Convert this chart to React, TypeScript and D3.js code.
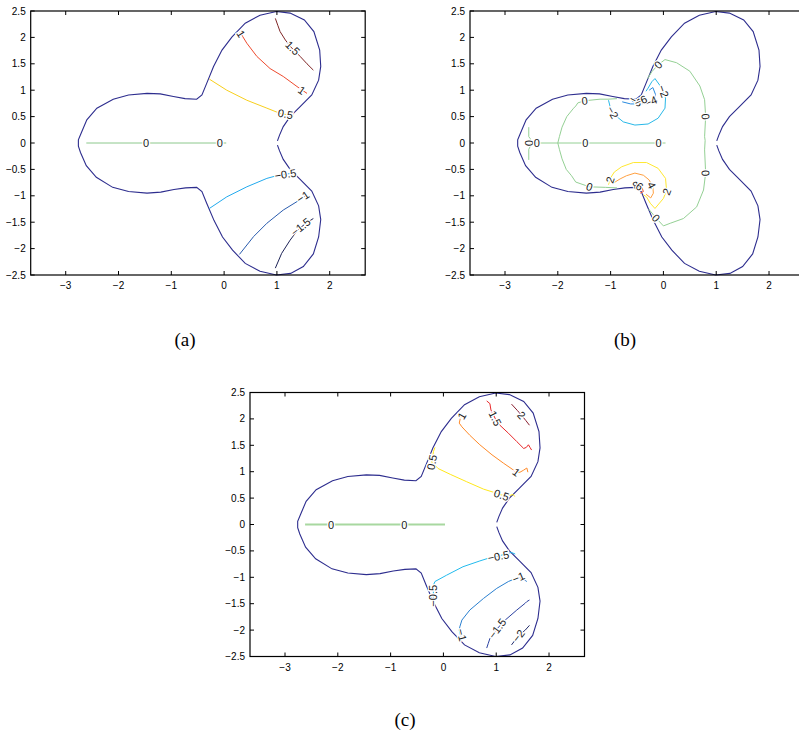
import * as d3 from "d3";

type Pt = [number, number];
type Contour = { level: number; points: Pt[] };
type Label = { level: number; at: Pt };

const X_DOMAIN: [number, number] = [-3.663, 2.672];
const Y_DOMAIN: [number, number] = [-2.5, 2.5];
const xTicks = [-3, -2, -1, 0, 1, 2];
const yTicks = [-2.5, -2, -1.5, -1, -0.5, 0, 0.5, 1, 1.5, 2, 2.5];

// domain outline: notch (upper side) -> round -> notch (lower side)
const boundaryUpper: Pt[] = [
  [1.01, 0.04], [1.05, 0.15], [1.12, 0.31], [1.25, 0.5], [1.44, 0.69], [1.66, 0.91],
  [1.79, 1.19], [1.83, 1.45], [1.81, 1.76], [1.7, 2.11], [1.52, 2.33], [1.25, 2.46],
  [0.99, 2.49], [0.68, 2.42], [0.4, 2.27], [0.15, 2.01], [-0.04, 1.76], [-0.2, 1.45],
  [-0.33, 1.13], [-0.42, 0.91], [-0.52, 0.83], [-0.74, 0.84], [-0.96, 0.88], [-1.21, 0.93],
  [-1.46, 0.94], [-1.81, 0.91], [-2.1, 0.83], [-2.41, 0.66], [-2.6, 0.44], [-2.71, 0.18],
  [-2.76, 0.06],
];
const boundaryLower: Pt[] = [
  [-2.76, -0.06], [-2.72, -0.18], [-2.61, -0.43], [-2.42, -0.65], [-2.11, -0.84], [-1.81, -0.92],
  [-1.46, -0.95], [-1.2, -0.93], [-0.95, -0.88], [-0.73, -0.85], [-0.52, -0.84], [-0.42, -0.92],
  [-0.33, -1.14], [-0.19, -1.47], [-0.03, -1.78], [0.16, -2.03], [0.4, -2.28], [0.68, -2.43],
  [0.99, -2.5], [1.26, -2.47], [1.5, -2.34], [1.69, -2.1], [1.79, -1.78], [1.83, -1.45],
  [1.79, -1.19], [1.66, -0.91], [1.44, -0.69], [1.25, -0.5], [1.12, -0.31], [1.05, -0.15],
  [1.01, -0.04],
];

// ---- panel (a) ----
const a_p15: Pt[] = [[0.97, 2.36], [1.02, 2.22], [1.06, 2.11], [1.16, 1.95], [1.28, 1.8], [1.44, 1.64], [1.57, 1.5], [1.69, 1.38]];
const a_p1: Pt[] = [[0.3, 2.1], [0.35, 2.02], [0.43, 1.89], [0.62, 1.64], [0.87, 1.41], [1.12, 1.26], [1.38, 1.07], [1.48, 1.0], [1.57, 0.94]];
const a_p05: Pt[] = [[-0.28, 1.21], [0.05, 1.0], [0.43, 0.81], [0.81, 0.66], [1.06, 0.56], [1.17, 0.54], [1.31, 0.51]];
const a_0: Pt[] = [[-2.61, 0], [0.04, 0]];
const a_m05: Pt[] = [[-0.28, -1.24], [0.05, -1.02], [0.43, -0.83], [0.81, -0.67], [1.03, -0.61], [1.16, -0.59], [1.24, -0.58]];
const a_m1: Pt[] = [[0.29, -2.11], [0.56, -1.77], [0.81, -1.52], [1.12, -1.27], [1.38, -1.11], [1.53, -1.01]];
const a_m15: Pt[] = [[0.97, -2.37], [1.09, -2.09], [1.25, -1.84], [1.4, -1.64], [1.55, -1.52], [1.69, -1.43]];

const contoursA: Contour[] = [
  { level: 1.5, points: a_p15 }, { level: 1, points: a_p1 }, { level: 0.5, points: a_p05 },
  { level: 0, points: a_0 }, { level: -0.5, points: a_m05 }, { level: -1, points: a_m1 },
  { level: -1.5, points: a_m15 },
];
const labelsA: Label[] = [
  { level: 1.5, at: [1.3, 1.8] }, { level: 1, at: [0.32, 2.07] }, { level: 1, at: [1.47, 1.0] },
  { level: 0.5, at: [1.16, 0.55] }, { level: 0, at: [-1.48, 0] }, { level: 0, at: [-0.08, 0] },
  { level: -0.5, at: [1.16, -0.59] }, { level: -1, at: [1.49, -1.02] }, { level: -1.5, at: [1.45, -1.59] },
];

// ---- panel (b) ----
const b_0left: Pt[] = [[-2.55, 0.3], [-2.55, 0.12], [-2.52, 0.08], [-2.52, -0.06], [-2.55, -0.12], [-2.55, -0.32]];
const b_0axis: Pt[] = [[-2.52, 0], [0.04, 0]];
const b_0loop: Pt[] = [
  [-0.88, 0.84], [-1.05, 0.83], [-1.2, 0.83], [-1.49, 0.8], [-1.62, 0.76], [-1.66, 0.7], [-1.7, 0.66],
  [-1.83, 0.5], [-1.92, 0.3], [-1.97, 0.12], [-2.0, 0], [-1.97, -0.12], [-1.92, -0.3], [-1.84, -0.5],
  [-1.74, -0.62], [-1.66, -0.74], [-1.4, -0.83], [-1.1, -0.84], [-0.88, -0.85],
];
const b_0right: Pt[] = [
  [-0.3, 1.22], [-0.22, 1.35], [-0.1, 1.48], [0.03, 1.58], [0.25, 1.52], [0.5, 1.36], [0.69, 1.08],
  [0.78, 0.82], [0.8, 0.5], [0.78, 0.12], [0.79, 0.05], [0.78, -0.13], [0.8, -0.57], [0.76, -0.89],
  [0.63, -1.21], [0.38, -1.43], [0.13, -1.52], [0.0, -1.57], [-0.14, -1.42], [-0.28, -1.25],
];
const b_m2: Pt[] = [
  [-1.04, 0.81], [-1.01, 0.69], [-0.92, 0.53], [-0.76, 0.4], [-0.54, 0.34], [-0.29, 0.36], [-0.1, 0.47],
  [0.03, 0.66], [0.04, 0.85], [-0.03, 1.04], [-0.16, 1.22], [-0.22, 1.16], [-0.29, 1.04], [-0.33, 0.98],
];
const b_m4: Pt[] = [[-0.78, 0.78], [-0.62, 0.74], [-0.44, 0.74], [-0.3, 0.76], [-0.18, 0.81], [-0.15, 0.92], [-0.2, 1.05], [-0.27, 1.0]];
const b_m6: Pt[] = [[-0.6, 0.8], [-0.5, 0.75], [-0.41, 0.79], [-0.38, 0.9]];
const b_p2: Pt[] = [
  [-1.04, -0.79], [-1.0, -0.66], [-0.93, -0.55], [-0.79, -0.45], [-0.57, -0.37], [-0.32, -0.37], [-0.1, -0.48],
  [0.04, -0.67], [0.06, -0.9], [0.0, -1.05], [-0.16, -1.24], [-0.25, -1.14], [-0.32, -1.02], [-0.38, -0.98],
];
const b_p4: Pt[] = [[-0.95, -0.76], [-0.82, -0.68], [-0.7, -0.62], [-0.54, -0.57], [-0.38, -0.61], [-0.27, -0.7], [-0.2, -0.84], [-0.19, -0.95], [-0.24, -1.04], [-0.33, -0.97]];
const b_p6: Pt[] = [[-0.58, -0.78], [-0.5, -0.74], [-0.42, -0.8], [-0.38, -0.92], [-0.44, -0.95]];

const contoursB: Contour[] = [
  { level: 0, points: b_0left }, { level: 0, points: b_0axis }, { level: 0, points: b_0loop },
  { level: 0, points: b_0right }, { level: -2, points: b_m2 }, { level: -4, points: b_m4 },
  { level: -6, points: b_m6 }, { level: 2, points: b_p2 }, { level: 4, points: b_p4 }, { level: 6, points: b_p6 },
];
const labelsB: Label[] = [
  { level: 0, at: [-2.55, 0] }, { level: 0, at: [-2.4, 0] }, { level: 0, at: [-1.48, 0] }, { level: 0, at: [-0.09, 0] },
  { level: 0, at: [-1.49, 0.8] }, { level: 0, at: [-1.4, -0.83] }, { level: 0, at: [-0.1, 1.48] },
  { level: 0, at: [0.8, 0.5] }, { level: 0, at: [0.8, -0.57] }, { level: 0, at: [-0.14, -1.42] },
  { level: -2, at: [-0.96, 0.58] }, { level: -2, at: [0.0, 0.98] }, { level: -4, at: [-0.24, 0.79] },
  { level: -8, at: [-0.52, 0.8] }, { level: -6, at: [-0.43, 0.8] },
  { level: 2, at: [-1.01, -0.7] }, { level: 2, at: [0.06, -0.92] }, { level: 4, at: [-0.22, -0.8] },
  { level: 8, at: [-0.52, -0.8] }, { level: 6, at: [-0.45, -0.82] },
];

// ---- panel (c) ----
const c_p2: Pt[] = [[1.29, 2.28], [1.4, 2.16], [1.48, 2.07], [1.56, 1.97], [1.63, 1.88]];
const c_p15: Pt[] = [[0.82, 2.34], [0.88, 2.29], [0.9, 2.17], [0.98, 2.01], [1.07, 1.88], [1.23, 1.73], [1.39, 1.57], [1.52, 1.44], [1.57, 1.46], [1.61, 1.51], [1.64, 1.46], [1.67, 1.41]];
const c_p1: Pt[] = [[0.36, 2.08], [0.32, 2.01], [0.3, 1.92], [0.35, 1.85], [0.5, 1.69], [0.69, 1.51], [0.92, 1.32], [1.14, 1.16], [1.3, 1.05], [1.38, 0.99], [1.45, 0.99], [1.52, 1.03], [1.58, 1.07], [1.6, 0.99]];
const c_p05: Pt[] = [[-0.16, 1.46], [-0.19, 1.38], [-0.2, 1.28], [-0.22, 1.18], [-0.1, 1.06], [0.13, 0.95], [0.44, 0.81], [0.76, 0.67], [0.95, 0.61], [1.1, 0.56], [1.26, 0.55], [1.32, 0.57], [1.35, 0.53]];
const c_0: Pt[] = [[-2.62, 0], [0.03, 0]];
const c_m05: Pt[] = [[-0.19, -1.42], [-0.19, -1.35], [-0.19, -1.15], [-0.16, -1.08], [0.06, -0.96], [0.37, -0.8], [0.69, -0.69], [0.88, -0.63], [1.04, -0.6], [1.2, -0.55], [1.29, -0.53], [1.36, -0.56]];
const c_m1: Pt[] = [[0.33, -2.12], [0.3, -2.0], [0.31, -1.94], [0.35, -1.81], [0.5, -1.62], [0.76, -1.4], [1.01, -1.21], [1.23, -1.08], [1.42, -1.0], [1.52, -1.04], [1.58, -1.08]];
const c_m15: Pt[] = [[0.82, -2.34], [0.85, -2.25], [0.88, -2.16], [1.02, -1.97], [1.17, -1.81], [1.39, -1.62], [1.55, -1.49], [1.58, -1.46], [1.63, -1.43]];
const c_m2: Pt[] = [[1.29, -2.28], [1.42, -2.11], [1.55, -2.0], [1.63, -1.91]];

const contoursC: Contour[] = [
  { level: 2, points: c_p2 }, { level: 1.5, points: c_p15 }, { level: 1, points: c_p1 },
  { level: 0.5, points: c_p05 }, { level: 0, points: c_0 }, { level: -0.5, points: c_m05 },
  { level: -1, points: c_m1 }, { level: -1.5, points: c_m15 }, { level: -2, points: c_m2 },
];
const labelsC: Label[] = [
  { level: 2, at: [1.48, 2.07] }, { level: 1.5, at: [0.98, 2.01] }, { level: 1, at: [0.35, 2.06] },
  { level: 1, at: [1.38, 0.99] }, { level: 0.5, at: [-0.22, 1.18] }, { level: 0.5, at: [1.1, 0.56] },
  { level: 0, at: [-2.13, 0] }, { level: 0, at: [-0.74, 0] }, { level: -0.5, at: [-0.19, -1.35] },
  { level: -0.5, at: [1.04, -0.6] }, { level: -1, at: [0.35, -2.09] }, { level: -1, at: [1.42, -1.0] },
  { level: -1.5, at: [1.02, -1.97] }, { level: -2, at: [1.42, -2.11] },
];

const colorsA: Record<string, string> = {
  "1.5": "#7f2626", "1": "#ee4a2e", "0.5": "#f8cf1c", "0": "#8cc88c",
  "-0.5": "#22aaee", "-1": "#2a5cae", "-1.5": "#1c2256",
};
const colorsB: Record<string, string> = {
  "-6": "#2a50c0", "-4": "#2a8ce0", "-2": "#28b8e8", "0": "#94d094",
  "2": "#ffe830", "4": "#ffa040", "6": "#f0502e",
};
const colorsC: Record<string, string> = {
  "2": "#8a2030", "1.5": "#e8282a", "1": "#ff8a28", "0.5": "#ffe81a", "0": "#a8d8a0",
  "-0.5": "#22bbee", "-1": "#2a80d0", "-1.5": "#2a40a0", "-2": "#202868",
};

const W = 334.5;
const H = 264;
const fmt = (v: number) => String(v).replace("-", "\u2212");

type PanelProps = {
  left: number;
  top: number;
  contours: Contour[];
  labels: Label[];
  colors: Record<string, string>;
  zeroWidth?: number;
};

function Panel({ left, top, contours, labels, colors, zeroWidth = 1 }: PanelProps) {
  const xScale = d3.scaleLinear().domain(X_DOMAIN).range([0, W]);
  const yScale = d3.scaleLinear().domain(Y_DOMAIN).range([H, 0]);
  const line = d3
    .line<Pt>()
    .x((d) => xScale(d[0]))
    .y((d) => yScale(d[1]));

  // angle of the contour segment nearest to the label, in screen space
  const angleAt = (lab: Label) => {
    let best = Infinity;
    let ang = 0;
    const px = xScale(lab.at[0]);
    const py = yScale(lab.at[1]);
    contours
      .filter((c) => Math.abs(c.level - lab.level) <= 2)
      .forEach((c) => {
        for (let i = 0; i < c.points.length - 1; i++) {
          const x1 = xScale(c.points[i][0]);
          const y1 = yScale(c.points[i][1]);
          const x2 = xScale(c.points[i + 1][0]);
          const y2 = yScale(c.points[i + 1][1]);
          const dx = x2 - x1;
          const dy = y2 - y1;
          const len2 = dx * dx + dy * dy || 1;
          const t = Math.max(0, Math.min(1, ((px - x1) * dx + (py - y1) * dy) / len2));
          const d = Math.hypot(px - (x1 + t * dx), py - (y1 + t * dy));
          if (d < best) {
            best = d;
            ang = (Math.atan2(dy, dx) * 180) / Math.PI;
          }
        }
      });
    if (ang > 90) ang -= 180;
    if (ang < -90) ang += 180;
    return ang;
  };

  const tickLen = 4;
  const font = "Liberation Sans, Arial, sans-serif";

  return (
    <g transform={`translate(${left},${top})`}>
      <path d={line([...boundaryUpper, ...boundaryLower]) ?? ""} fill="none" stroke="#2d2d8e" strokeWidth={1.1} />
      {contours.map((c, i) => (
        <path
          key={i}
          d={line(c.points) ?? ""}
          fill="none"
          stroke={colors[String(c.level)] ?? "#555"}
          strokeWidth={c.level === 0 ? zeroWidth : 1}
        />
      ))}
      {labels.map((lab, i) => (
        <text
          key={i}
          transform={`translate(${xScale(lab.at[0])},${yScale(lab.at[1])}) rotate(${angleAt(lab)})`}
          textAnchor="middle"
          dominantBaseline="central"
          fontSize={11}
          fontFamily={font}
          fill="#222"
          stroke="white"
          strokeWidth={2.5}
          paintOrder="stroke"
        >
          {fmt(lab.level)}
        </text>
      ))}
      <rect x={0} y={0} width={W} height={H} fill="none" stroke="black" strokeWidth={1.2} />
      {xTicks.map((t) => (
        <g key={"x" + t}>
          <line x1={xScale(t)} x2={xScale(t)} y1={H} y2={H - tickLen} stroke="black" />
          <line x1={xScale(t)} x2={xScale(t)} y1={0} y2={tickLen} stroke="black" />
          <text x={xScale(t)} y={H + 14} textAnchor="middle" fontSize={10} fontFamily={font}>
            {fmt(t)}
          </text>
        </g>
      ))}
      {yTicks.map((t) => (
        <g key={"y" + t}>
          <line x1={0} x2={tickLen} y1={yScale(t)} y2={yScale(t)} stroke="black" />
          <line x1={W} x2={W - tickLen} y1={yScale(t)} y2={yScale(t)} stroke="black" />
          <text x={-5} y={yScale(t)} textAnchor="end" dominantBaseline="central" fontSize={10} fontFamily={font}>
            {fmt(t)}
          </text>
        </g>
      ))}
    </g>
  );
}

export default function App() {
  const captionStyle = { fontFamily: "Liberation Serif, Times New Roman, serif", fontSize: 19 };
  return (
    <svg width={799} height={738} style={{ position: "absolute", left: 0, top: 0, background: "white" }}>
      <Panel left={30.7} top={11} contours={contoursA} labels={labelsA} colors={colorsA} />
      <Panel left={470} top={11} contours={contoursB} labels={labelsB} colors={colorsB} />
      <Panel left={250} top={392.5} contours={contoursC} labels={labelsC} colors={colorsC} zeroWidth={2} />
      <text x={185} y={346} textAnchor="middle" style={captionStyle}>(a)</text>
      <text x={625} y={346} textAnchor="middle" style={captionStyle}>(b)</text>
      <text x={405} y={726} textAnchor="middle" style={captionStyle}>(c)</text>
    </svg>
  );
}
